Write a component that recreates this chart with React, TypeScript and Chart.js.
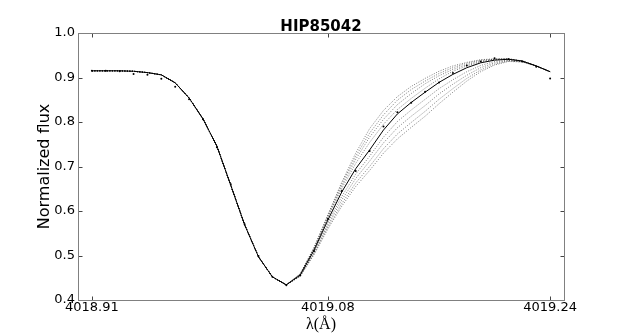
import { useEffect, useRef } from "react";
import { Chart, registerables } from "chart.js";

Chart.register(...registerables);

const chartTitle = "HIP85042";
const yAxisLabel = "Normalized flux";
const xAxisLabel = "λ(Å)";

const wavelength = [
  4018.91, 4018.92, 4018.93, 4018.94, 4018.95, 4018.96, 4018.97, 4018.98, 4018.99, 4019.0,
  4019.01, 4019.02, 4019.03, 4019.04, 4019.05, 4019.06, 4019.07, 4019.08, 4019.09, 4019.1,
  4019.11, 4019.12, 4019.13, 4019.14, 4019.15, 4019.16, 4019.17, 4019.18, 4019.19, 4019.2,
  4019.21, 4019.22, 4019.23, 4019.24,
];

const xTickValues = [4018.91, 4019.08, 4019.24];
const yTickValues = [0.4, 0.5, 0.6, 0.7, 0.8, 0.9, 1.0];

// shared blue wing + core (first 15 samples) of all synthetic profiles
const blueWing = [0.915, 0.915, 0.915, 0.914, 0.911, 0.906, 0.888, 0.854, 0.807, 0.746, 0.658, 0.569, 0.497, 0.452, 0.434];

// red wing of the best-fit synthetic profile
const bestFitRed = [0.456, 0.512, 0.58, 0.643, 0.695, 0.737, 0.782, 0.818, 0.844, 0.867, 0.889, 0.907, 0.922, 0.933, 0.939, 0.941, 0.937, 0.926, 0.913];

// red wings of the alternative synthetic profiles (dotted)
const modelA1 = [0.459, 0.518, 0.592, 0.665, 0.73, 0.785, 0.826, 0.857, 0.88, 0.898, 0.914, 0.926, 0.934, 0.94, 0.942, 0.942, 0.937, 0.926, 0.913];
const modelA2 = [0.458, 0.517, 0.59, 0.661, 0.723, 0.775, 0.816, 0.849, 0.873, 0.892, 0.909, 0.922, 0.932, 0.939, 0.941, 0.942, 0.937, 0.926, 0.913];
const modelA3 = [0.458, 0.516, 0.587, 0.656, 0.716, 0.766, 0.806, 0.839, 0.864, 0.886, 0.904, 0.918, 0.929, 0.937, 0.941, 0.942, 0.937, 0.926, 0.913];
const modelA4 = [0.457, 0.514, 0.584, 0.651, 0.707, 0.754, 0.795, 0.828, 0.853, 0.876, 0.897, 0.914, 0.926, 0.935, 0.94, 0.941, 0.937, 0.926, 0.913];
const modelB1 = [0.455, 0.509, 0.574, 0.633, 0.683, 0.723, 0.766, 0.801, 0.827, 0.851, 0.875, 0.895, 0.913, 0.927, 0.936, 0.939, 0.936, 0.926, 0.913];
const modelB2 = [0.454, 0.506, 0.569, 0.625, 0.673, 0.712, 0.753, 0.787, 0.813, 0.837, 0.863, 0.885, 0.905, 0.922, 0.933, 0.938, 0.936, 0.926, 0.913];
const modelB3 = [0.454, 0.504, 0.564, 0.617, 0.663, 0.7, 0.74, 0.773, 0.799, 0.824, 0.851, 0.875, 0.898, 0.917, 0.93, 0.937, 0.935, 0.926, 0.913];
const modelB4 = [0.453, 0.502, 0.56, 0.611, 0.655, 0.691, 0.73, 0.762, 0.788, 0.813, 0.841, 0.867, 0.892, 0.913, 0.928, 0.936, 0.935, 0.926, 0.913];

const observed = [
  0.915, 0.915, 0.914, 0.908, 0.906, 0.897, 0.879, 0.851, 0.806, 0.743,
  0.66, 0.57, 0.499, 0.452, 0.433, 0.455, 0.51, 0.582, 0.645, 0.69,
  0.735, 0.79, 0.822, 0.843, 0.868, 0.889, 0.91, 0.927, 0.936, 0.943,
  0.941, 0.936, 0.924, 0.898,
];

const toPoints = (vals: number[]) => vals.map((y, i) => ({ x: wavelength[i], y }));

const decorPlugin = {
  id: "decor",
  afterDraw(chart: any) {
    const { ctx, chartArea: a, scales } = chart;
    const L = Math.round(a.left) + 0.5;
    const T = Math.round(a.top) + 0.5;
    const R = Math.round(a.right) + 0.5;
    const B = Math.round(a.bottom) + 0.5;
    ctx.save();
    ctx.strokeStyle = "#444";
    ctx.lineWidth = 1;
    ctx.beginPath();
    xTickValues.forEach((v) => {
      const px = Math.round(scales.x.getPixelForValue(v)) + 0.5;
      ctx.moveTo(px, B);
      ctx.lineTo(px, B - 4);
      ctx.moveTo(px, T);
      ctx.lineTo(px, T + 4);
    });
    yTickValues.forEach((v) => {
      const py = Math.round(scales.y.getPixelForValue(v)) + 0.5;
      ctx.moveTo(L, py);
      ctx.lineTo(L + 4, py);
      ctx.moveTo(R, py);
      ctx.lineTo(R - 4, py);
    });
    ctx.stroke();
    ctx.strokeStyle = "#808080";
    ctx.strokeRect(L, T, R - L, B - T);
    const cx = (a.left + a.right) / 2;
    ctx.fillStyle = "#000";
    ctx.textAlign = "center";
    ctx.textBaseline = "middle";
    ctx.font = "bold 15px 'DejaVu Sans'";
    ctx.fillText(chartTitle, cx, 27);
    ctx.font = "16px 'Liberation Serif'";
    ctx.fillText(xAxisLabel, cx, 325);
    ctx.translate(45, (a.top + a.bottom) / 2);
    ctx.rotate(-Math.PI / 2);
    ctx.font = "16px 'DejaVu Sans'";
    ctx.fillText(yAxisLabel, 0, 0);
    ctx.restore();
  },
};

export default function App() {
  const ref = useRef<HTMLCanvasElement | null>(null);

  useEffect(() => {
    document.body.style.margin = "0";
    if (!ref.current) return;
    const dotted = (vals: number[]) => ({
      data: toPoints(blueWing.concat(vals)),
      borderColor: "rgba(0,0,0,0.5)",
      borderWidth: 1,
      borderDash: [1, 1.5],
      pointRadius: 0,
      fill: false,
      tension: 0,
      order: 3,
    });
    const chart = new Chart(ref.current, {
      type: "line",
      data: {
        datasets: [
          {
            data: toPoints(observed),
            showLine: false,
            pointRadius: 1,
            pointBorderWidth: 0,
            pointBackgroundColor: "#000",
            borderColor: "#000",
            order: 1,
          } as any,
          {
            data: toPoints(blueWing.concat(bestFitRed)),
            borderColor: "#000",
            borderWidth: 1,
            pointRadius: 0,
            fill: false,
            tension: 0,
            order: 2,
          },
          dotted(modelA1),
          dotted(modelA2),
          dotted(modelA3),
          dotted(modelA4),
          dotted(modelB1),
          dotted(modelB2),
          dotted(modelB3),
          dotted(modelB4),
        ],
      },
      options: {
        animation: false,
        responsive: false,
        devicePixelRatio: 1,
        layout: { padding: { left: 0, top: 33, right: 63, bottom: 0 } },
        plugins: { legend: { display: false }, tooltip: { enabled: false }, title: { display: false } },
        scales: {
          x: {
            type: "linear",
            min: 4018.9,
            max: 4019.25,
            grid: { display: false, drawTicks: false },
            border: { display: false },
            afterBuildTicks: (scale: any) => {
              scale.ticks = xTickValues.map((v) => ({ value: v }));
            },
            afterFit: (scale: any) => {
              scale.height = 34;
            },
            ticks: {
              autoSkip: false,
              maxRotation: 0,
              padding: 0,
              color: "#000",
              font: { family: "'DejaVu Sans'", size: 13 },
              callback: (v: any) => Number(v).toFixed(2),
            },
          },
          y: {
            type: "linear",
            min: 0.4,
            max: 1.0,
            grid: { display: false, drawTicks: false },
            border: { display: false },
            afterBuildTicks: (scale: any) => {
              scale.ticks = yTickValues.map((v) => ({ value: v }));
            },
            afterFit: (scale: any) => {
              scale.width = 78;
            },
            ticks: {
              autoSkip: false,
              padding: 3,
              color: "#000",
              font: { family: "'DejaVu Sans'", size: 13 },
              callback: (v: any) => Number(v).toFixed(1),
            },
          },
        },
      },
      plugins: [decorPlugin],
    });
    return () => chart.destroy();
  }, []);

  return <canvas ref={ref} width={627} height={334} style={{ display: "block" }} />;
}
